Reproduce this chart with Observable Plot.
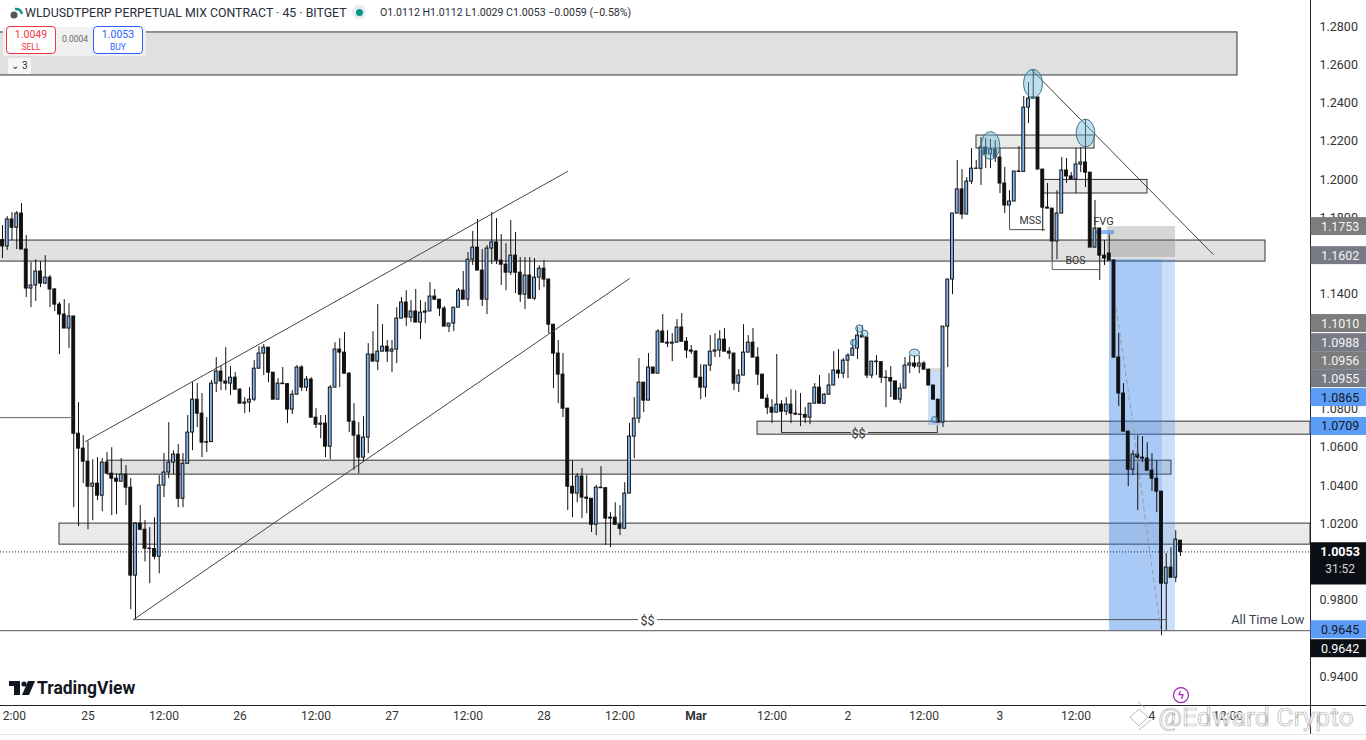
<!DOCTYPE html>
<html><head><meta charset="utf-8">
<script src="https://cdn.jsdelivr.net/npm/d3@7"></script>
<script src="https://cdn.jsdelivr.net/npm/@observablehq/plot@0.6"></script>
<style>
html,body{margin:0;padding:0;background:#fff;overflow:hidden}
#wrap{position:relative;width:1366px;height:740px;font-family:Roboto,sans-serif;color:#131722}
#wrap svg{display:block}
.ov{position:absolute;white-space:nowrap}
.btn{position:absolute;top:26px;height:26px;width:48px;background:#fff;border-radius:4px;text-align:center;line-height:1}
</style></head><body>
<div id="wrap"></div>
<script>
const open=[
1.1683,1.1650,1.1791,1.1748,1.1822,1.1634,1.1430,1.1446,1.1519,1.1456,
1.1487,1.1425,1.1346,1.1294,1.1221,1.1284,1.0671,1.0593,1.0525,1.0394,
1.0410,1.0347,1.0520,1.0462,1.0436,1.0420,1.0457,1.0389,0.9929,1.0201,
1.0169,1.0070,1.0068,1.0028,1.0400,1.0468,1.0520,1.0562,1.0331,1.0514,
1.0677,1.0849,1.0776,1.0624,1.0627,1.0933,1.0996,1.0944,1.0933,1.0964,
1.0901,1.0828,1.0834,1.0849,1.1011,1.1090,1.1121,1.0990,1.0849,1.0933,
1.0930,1.0797,1.0875,1.1017,1.0912,1.0954,1.0755,1.0718,1.0724,1.0603,
1.0912,1.1111,1.1095,1.0985,1.0734,1.0661,1.0546,1.0651,1.1085,1.1048,
1.1100,1.1126,1.1100,1.1111,1.1273,1.1357,1.1278,1.1310,1.1252,1.1304,
1.1310,1.1388,1.1372,1.1325,1.1231,1.1247,1.1330,1.1419,1.1372,1.1581,
1.1644,1.1524,1.1372,1.1639,1.1671,1.1576,1.1555,1.1513,1.1602,1.1513,
1.1398,1.1498,1.1377,1.1487,1.1534,1.1477,1.1241,1.1090,1.0980,1.0802,
1.0394,1.0358,1.0447,1.0337,1.0331,1.0195,1.0389,1.0386,1.0227,1.0232,
1.0195,1.0174,1.0358,1.0656,1.0750,1.0938,1.0844,1.1017,1.0985,1.1205,
1.1147,1.1142,1.1147,1.1226,1.1152,1.1106,1.1100,1.0964,1.0912,1.1027,
1.1100,1.1106,1.1163,1.1100,1.1090,1.0933,1.0975,1.1095,1.1147,1.1069,
1.0980,1.0854,1.0807,1.0781,1.0823,1.0786,1.0823,1.0776,1.0771,1.0769,
1.0755,1.0828,1.0912,1.0828,1.0875,1.0923,1.1001,1.0985,1.1053,1.1079,
1.1116,1.1184,1.1174,1.0975,1.1048,1.1045,1.0964,1.0962,1.0944,1.0849,
1.0907,1.1027,1.1038,1.1022,1.1038,1.1006,1.0923,1.0849,1.0729,1.1231,
1.1477,1.1822,1.1948,1.1817,1.1989,1.2057,1.2056,1.2167,1.2131,1.2157,
1.2115,1.1979,1.1864,1.1885,1.2042,1.2040,1.2376,1.2423,1.2429,1.2052,
1.1853,1.1848,1.1676,1.1822,1.2047,1.2016,1.2000,1.2078,1.2089,1.2036,
1.1644,1.1744,1.1602,1.1613,1.1576,1.1069,1.0881,1.0682,1.0483,1.0562,
1.0546,1.0541,1.0478,1.0436,1.0368,0.9887,0.9971,0.9918,1.0112];
const close=[
1.1650,1.1791,1.1748,1.1822,1.1634,1.1430,1.1446,1.1519,1.1456,1.1487,
1.1425,1.1346,1.1294,1.1221,1.1284,1.0671,1.0593,1.0525,1.0394,1.0410,
1.0347,1.0520,1.0462,1.0436,1.0420,1.0457,1.0389,0.9929,1.0201,1.0169,
1.0070,1.0068,1.0028,1.0400,1.0468,1.0520,1.0562,1.0331,1.0514,1.0677,
1.0849,1.0776,1.0624,1.0627,1.0933,1.0996,1.0944,1.0933,1.0964,1.0901,
1.0828,1.0834,1.0849,1.1011,1.1090,1.1121,1.0990,1.0849,1.0933,1.0930,
1.0797,1.0875,1.1017,1.0912,1.0954,1.0755,1.0718,1.0724,1.0603,1.0912,
1.1111,1.1095,1.0985,1.0734,1.0661,1.0546,1.0651,1.1085,1.1048,1.1100,
1.1126,1.1100,1.1111,1.1273,1.1357,1.1278,1.1310,1.1252,1.1304,1.1310,
1.1388,1.1372,1.1325,1.1231,1.1247,1.1330,1.1419,1.1372,1.1581,1.1644,
1.1524,1.1372,1.1639,1.1671,1.1576,1.1555,1.1513,1.1602,1.1513,1.1398,
1.1498,1.1377,1.1487,1.1534,1.1477,1.1241,1.1090,1.0980,1.0802,1.0394,
1.0358,1.0447,1.0337,1.0331,1.0195,1.0389,1.0386,1.0227,1.0232,1.0195,
1.0174,1.0358,1.0656,1.0750,1.0938,1.0844,1.1017,1.0985,1.1205,1.1147,
1.1142,1.1147,1.1226,1.1152,1.1106,1.1100,1.0964,1.0912,1.1027,1.1100,
1.1106,1.1163,1.1100,1.1090,1.0933,1.0975,1.1095,1.1147,1.1069,1.0980,
1.0854,1.0807,1.0781,1.0823,1.0786,1.0823,1.0776,1.0771,1.0769,1.0755,
1.0828,1.0912,1.0828,1.0875,1.0923,1.1001,1.0985,1.1053,1.1079,1.1116,
1.1184,1.1174,1.0975,1.1048,1.1045,1.0964,1.0962,1.0944,1.0849,1.0907,
1.1027,1.1038,1.1022,1.1038,1.1006,1.0923,1.0849,1.0729,1.1231,1.1477,
1.1822,1.1948,1.1817,1.1989,1.2057,1.2056,1.2167,1.2131,1.2157,1.2115,
1.1979,1.1864,1.1885,1.2042,1.2040,1.2376,1.2423,1.2429,1.2052,1.1853,
1.1848,1.1676,1.1822,1.2047,1.2016,1.2000,1.2078,1.2089,1.2036,1.1644,
1.1744,1.1602,1.1587,1.1576,1.1069,1.0881,1.0682,1.0483,1.0562,1.0546,
1.0541,1.0478,1.0436,1.0368,0.9887,0.9971,0.9918,1.0117,1.0053];
const high=[
1.1759,1.1806,1.1827,1.1833,1.1874,1.1707,1.1566,1.1581,1.1571,1.1602,
1.1498,1.1430,1.1357,1.1372,1.1351,1.1284,1.0834,1.0661,1.0630,1.0535,
1.0546,1.0541,1.0572,1.0598,1.0462,1.0541,1.0504,1.0436,1.0206,1.0295,
1.0216,1.0180,1.0232,1.0452,1.0567,1.0729,1.0582,1.0614,1.0567,1.0766,
1.0938,1.0933,1.0881,1.0755,1.0949,1.1069,1.1027,1.1121,1.1022,1.0990,
1.0907,1.0860,1.0912,1.1053,1.1126,1.1137,1.1121,1.0990,1.0959,1.1017,
1.0933,1.0896,1.1027,1.1027,1.0970,1.0964,1.0802,1.0766,1.0766,1.0923,
1.1147,1.1168,1.1200,1.0990,1.0828,1.0729,1.0760,1.1142,1.1205,1.1346,
1.1241,1.1158,1.1158,1.1330,1.1383,1.1419,1.1367,1.1425,1.1367,1.1357,
1.1461,1.1425,1.1372,1.1336,1.1247,1.1330,1.1430,1.1519,1.1618,1.1728,
1.1791,1.1634,1.1655,1.1827,1.1796,1.1712,1.1665,1.1785,1.1723,1.1592,
1.1592,1.1592,1.1587,1.1550,1.1576,1.1477,1.1241,1.1158,1.1090,1.0802,
1.0530,1.0462,1.0488,1.0452,1.0331,1.0400,1.0499,1.0389,1.0258,1.0310,
1.0295,1.0415,1.0724,1.0860,1.1064,1.0938,1.1090,1.1017,1.1215,1.1294,
1.1210,1.1194,1.1268,1.1299,1.1174,1.1132,1.1106,1.1032,1.1027,1.1184,
1.1194,1.1210,1.1221,1.1121,1.1090,1.1006,1.1241,1.1184,1.1221,1.1121,
1.0980,1.0875,1.0849,1.1085,1.0844,1.0860,1.0901,1.0896,1.0881,1.0807,
1.0828,1.0933,1.0975,1.0881,1.0985,1.1100,1.1111,1.1064,1.1090,1.1163,
1.1226,1.1236,1.1174,1.1048,1.1079,1.1048,1.1001,1.1022,1.0944,1.0933,
1.1069,1.1079,1.1079,1.1079,1.1048,1.1006,1.0923,1.0849,1.1231,1.1477,
1.1822,1.2099,1.2052,1.2010,1.2162,1.2099,1.2219,1.2214,1.2209,1.2204,
1.2162,1.2063,1.1942,1.2042,1.2172,1.2434,1.2507,1.2570,1.2429,1.2052,
1.1979,1.1848,1.1942,1.2115,1.2110,1.2036,1.2162,1.2167,1.2314,1.2036,
1.1890,1.1744,1.1681,1.1712,1.1581,1.1194,1.0933,1.0682,1.0582,1.0661,
1.0656,1.0624,1.0567,1.0530,1.0368,1.0044,1.0075,1.0164,1.0112];
const low=[
1.1587,1.1629,1.1681,1.1634,1.1634,1.1383,1.1330,1.1362,1.1435,1.1451,
1.1330,1.1310,1.1085,1.1221,1.1116,1.0284,1.0185,1.0410,1.0169,1.0216,
1.0321,1.0263,1.0462,1.0243,1.0248,1.0420,1.0295,0.9751,0.9699,1.0164,
1.0001,0.9887,1.0012,0.9939,1.0337,1.0436,1.0457,1.0284,1.0284,1.0514,
1.0582,1.0703,1.0546,1.0572,1.0627,1.0886,1.0896,1.0896,1.0870,1.0901,
1.0828,1.0776,1.0781,1.0839,1.1011,1.0975,1.0938,1.0849,1.0849,1.0928,
1.0724,1.0771,1.0875,1.0891,1.0891,1.0755,1.0698,1.0645,1.0546,1.0535,
1.0912,1.0912,1.0985,1.0677,1.0478,1.0462,1.0520,1.0567,1.1048,1.1001,
1.1100,1.1043,1.0990,1.1038,1.1273,1.1231,1.1252,1.1252,1.1163,1.1247,
1.1310,1.1367,1.1284,1.1231,1.1200,1.1205,1.1330,1.1372,1.1336,1.1550,
1.1524,1.1336,1.1294,1.1555,1.1555,1.1446,1.1419,1.1498,1.1404,1.1357,
1.1320,1.1377,1.1367,1.1419,1.1435,1.1194,1.0907,1.0828,1.0755,1.0269,
1.0232,1.0310,1.0227,1.0253,1.0154,1.0138,1.0384,1.0086,1.0075,1.0195,
1.0138,1.0174,1.0358,1.0541,1.0724,1.0781,1.0844,1.0985,1.0985,1.1147,
1.1121,1.1048,1.1147,1.1152,1.1064,1.1085,1.0964,1.0849,1.0860,1.0996,
1.1069,1.1069,1.1100,1.1059,1.0896,1.0886,1.0975,1.1095,1.1069,1.0923,
1.0854,1.0771,1.0724,1.0781,1.0677,1.0766,1.0724,1.0766,1.0708,1.0724,
1.0718,1.0828,1.0828,1.0823,1.0875,1.0923,1.0959,1.0959,1.0959,1.1079,
1.1059,1.1174,1.0959,1.0959,1.0975,1.0933,1.0807,1.0860,1.0849,1.0828,
1.0907,1.0985,1.1011,1.0985,1.1006,1.0923,1.0849,1.0729,1.0703,1.1017,
1.1398,1.1822,1.1791,1.1817,1.1974,1.2056,1.1969,1.2057,1.2057,1.2089,
1.1927,1.1822,1.1744,1.1885,1.2040,1.2047,1.2293,1.2423,1.2052,1.1728,
1.1848,1.1576,1.1581,1.1822,1.1979,1.2000,1.1927,1.2036,1.1958,1.1644,
1.1644,1.1472,1.1550,1.1576,1.1069,1.0813,1.0682,1.0394,1.0452,1.0269,
1.0520,1.0478,1.0368,1.0258,0.9615,0.9641,0.9918,0.9892,1.0029];

const yTicks=[1.28,1.26,1.24,1.22,1.20,1.18,1.14,1.08,1.06,1.04,1.02,0.98,0.94];
const xTickAt=[2.5,18,34,50,66,82,98,114,130,146,162,178,194,210,226,242,258];
const xTickText=["2:00","25","12:00","26","12:00","27","12:00","28","12:00","Mar","12:00","2","12:00","3","12:00","4","12:00"];

// [from bar, to bar, upper price, lower price, fill]
const zones=[
 [-1,260,1.2769,1.2544,"#e0e0e0"],
 [-1,265.9,1.1681,1.1571,"#e1e1e1"],
 [158.95,275.37,1.0734,1.0666,"#e3e4e3"],
 [22.1,246.1,1.0530,1.0457,"#dfe0df"],
 [12,275.37,1.0201,1.0091,"#e9ebea"],
 [205.05,229.9,1.2230,1.2162,"#e9ebe9"],
 [219.2,241.05,1.1998,1.1927,"#eaebea"]];
const shades=[
 [233.05,244.2,1.1581,0.9641,"rgba(41,121,235,.40)"],
 [244.2,246.95,1.1581,0.9641,"rgba(41,121,235,.24)"],
 [232.6,246.95,1.1754,1.1592,"rgba(120,120,120,.30)"],
 [194.95,197.7,1.1011,1.0990,"rgba(120,120,120,.30)"],
 [194.95,197.7,1.0990,1.0713,"rgba(41,121,235,.24)"],
 [186.95,188.4,1.0949,1.0860,"rgba(41,121,235,.24)"]];
const solidLines=[
 {c:"#444",a:[[17.47,1.0630],[118.95,1.2042]]},
 {c:"#444",a:[[27.58,0.9699],[132,1.1482]]},
 {c:"#555",a:[[27.58,0.9699],[133.7,0.9699]]},
 {c:"#555",a:[[137.9,0.9699],[245.05,0.9699]]},
 {c:"#555",a:[[-1,0.9641],[275.37,0.9641]]},
 {c:"#666",a:[[-1,1.0755],[14.7,1.0755]]},
 {c:"#333",a:[[164,1.0677],[178.5,1.0677]]},
 {c:"#333",a:[[182.3,1.0677],[196.8,1.0677],[196.8,1.0713]]},
 {c:"#555",a:[[212,1.1864],[212,1.1738],[219.4,1.1738]]},
 {c:"#666",a:[[221,1.1670],[221,1.1529],[231,1.1529],[231,1.1550]]},
 {c:"#444",a:[[216.8,1.2570],[254.9,1.1608]]}];
const arrowPath=[[234.5,1.1325],[238.1,1.0703],[239.6,1.0410],[241.3,1.0096],[243.8,0.9657]];
const tallMarks=[[216.95,1.2502,9.4],[228,1.2243,9.2],[208,1.2178,9.2]];
const wideMarks=[[192,1.1095,3.5]];
const roundMarks=[[180.4,1.1221,3.7],[181.5,1.1194,3.4],[179.2,1.1147,3.2],[196.2,1.0745,3]];
const notes=[
 ["MSS",216.4,1.1785,10.5],["BOS",225.9,1.1576,10.5],["FVG",231.8,1.1780,11],["$$",135.8,0.9693,12.5],["$$",180.2,1.0671,12.5]];
// text, display level, fill, text colour
const tags=[
 ["1.1753",1.1754,"#7d7d7d","#f4f4f4"],["1.1602",1.1602,"#787b86","#f4f4f4"],
 ["1.1010",1.1247,"#7d7d7d","#f4f4f4"],["1.0988",1.1147,"#787b86","#f4f4f4"],
 ["1.0956",1.1053,"#7d7d7d","#f4f4f4"],["1.0955",1.0959,"#787b86","#f4f4f4"],
 ["1.0865",1.0860,"#5b9cf6","#131722"],["1.0709",1.0709,"#5b9cf6","#131722"],
 ["0.9645",0.9646,"#5b9cf6","#131722"],["0.9642",0.9547,"#0c0e15","#ffffff"]];

const candles=close.map((c,i)=>({i,o:open[i],h:high[i],l:low[i],c}));
const up=candles.filter(d=>d.c>d.o), dn=candles.filter(d=>d.c<=d.o);
const lineRows=solidLines.flatMap((s,k)=>s.a.map(([i,p])=>({k,i,p,c:s.c})));
const ellipse=(ax,ay)=>({draw(ctx,size){
  const r=Math.sqrt(size/Math.PI),rx=r*ax,ry=r*ay,K=0.5523;
  ctx.moveTo(rx,0);
  ctx.bezierCurveTo(rx,K*ry,K*rx,ry,0,ry);
  ctx.bezierCurveTo(-K*rx,ry,-rx,K*ry,-rx,0);
  ctx.bezierCurveTo(-rx,-K*ry,-K*rx,-ry,0,-ry);
  ctx.bezierCurveTo(K*rx,-ry,rx,-K*ry,rx,0);
  ctx.closePath();
}});
const rectMark=(rows,opt={})=>Plot.rect(rows,{x1:d=>d[0],x2:d=>d[1],y1:d=>d[3],y2:d=>d[2],fill:d=>d[4],...opt});
const tagH=0.0047, tagL=275.37, tagR=288;
const fontTV="Roboto,sans-serif";

const chart=Plot.plot({
  width:1366,height:740,
  marginLeft:0,marginRight:56,marginTop:0,marginBottom:35,
  style:{background:"#fff",fontFamily:fontTV,overflow:"hidden"},
  x:{domain:[-0.421,275.37],range:[0,1310],axis:null},
  y:{domain:[0.9250,1.2936],range:[705,0],axis:null},
  r:{type:"identity"},
  marks:[
    rectMark(zones,{stroke:"#333",strokeWidth:1}),
    rectMark(shades),
    Plot.rect([[230.3,234.1,1.1733,1.1712]],{x1:d=>d[0],x2:d=>d[1],y1:d=>d[3],y2:d=>d[2],fill:"#2d7ff0",fillOpacity:.55}),
    Plot.ruleX(candles,{x:"i",y1:"l",y2:"h",stroke:"#111",strokeWidth:1}),
    Plot.rect(dn,{x1:d=>d.i-.3,x2:d=>d.i+.3,y1:"o",y2:"c",fill:"#111",stroke:"#111",strokeWidth:1}),
    Plot.rect(up,{x1:d=>d.i-.3,x2:d=>d.i+.3,y1:"o",y2:"c",fill:"#84b6f0",stroke:"#111",strokeWidth:1}),
    Plot.line(lineRows,{x:"i",y:"p",z:"k",stroke:"c",strokeWidth:1}),
    Plot.line(arrowPath,{x:d=>d[0],y:d=>d[1],stroke:"#9a9a9a",strokeWidth:1,strokeDasharray:"4 4"}),
    Plot.ruleY([1.0053],{stroke:"#222",strokeWidth:1,strokeDasharray:"1 2"}),
    Plot.dot(tallMarks,{x:d=>d[0],y:d=>d[1],r:d=>d[2],symbol:ellipse(1,1.5),fill:"#6fb7dc",fillOpacity:.45,stroke:"#3d6f88",strokeWidth:1}),
    Plot.dot(wideMarks,{x:d=>d[0],y:d=>d[1],r:d=>d[2],symbol:ellipse(1.45,1),fill:"#6fb7dc",fillOpacity:.45,stroke:"#3d6f88",strokeWidth:1}),
    Plot.dot(roundMarks,{x:d=>d[0],y:d=>d[1],r:d=>d[2],fill:"#6fb7dc",fillOpacity:.45,stroke:"#3d6f88",strokeWidth:1}),
    Plot.text(notes,{x:d=>d[1],y:d=>d[2],text:d=>d[0],fontSize:d=>d[3],fill:"#333"}),
    Plot.text(["All Time Low"],{x:274.1,y:0.9699,textAnchor:"end",fontSize:12.8,fill:"#3c4250"}),
    // axes frame
    Plot.axisY({anchor:"right",ticks:yTicks,tickFormat:d=>d.toFixed(4),tickSize:0,tickPadding:9,fontSize:12.5,color:"#333",label:null}),
    Plot.axisX({anchor:"bottom",ticks:xTickAt,tickFormat:d=>xTickText[xTickAt.indexOf(d)],tickSize:0,tickPadding:6,fontSize:12,color:"#333",label:null}),
    Plot.ruleX([275.37],{y1:0.9250-0.015,y2:1.2936,stroke:"#222",strokeWidth:1,clip:false}),
    // price tags
    Plot.rect(tags,{x1:tagL+.12,x2:tagR,y1:d=>d[1]-tagH,y2:d=>d[1]+tagH,fill:d=>d[2]}),
    Plot.text(tags,{x:281.6,y:d=>d[1],text:d=>d[0],fill:d=>d[3],fontSize:12.5}),
    Plot.rect([1.0053],{x1:tagL+.12,x2:tagR,y1:0.9880,y2:1.0101,fill:"#0c0e15"}),
    Plot.text(["1.0053"],{x:281.6,y:1.0053,fill:"#fff",fontSize:12.5,fontWeight:"bold"}),
    Plot.text(["31:52"],{x:281.6,y:0.9965,fill:"#d6d6d6",fontSize:12}),
    // bottom furniture
    Plot.dot([[248.1,0.9304]],{x:d=>d[0],y:d=>d[1],r:7.5,fill:"#fff",stroke:"#9c27b0",strokeWidth:1.2}),
    Plot.text(["ϟ"],{x:248.1,y:0.9304,fontSize:11,fontWeight:"bold",fill:"#9c27b0"})
  ]
});
const wrap=document.getElementById("wrap");
wrap.appendChild(chart);
const sel=d3.select(chart);
sel.selectAll("text").filter(function(){return this.textContent==="Mar"}).attr("font-weight",700);
sel.append("line").attr("x1",0).attr("x2",1366).attr("y1",705.5).attr("y2",705.5).attr("stroke","#222");
sel.append("line").attr("x1",0).attr("x2",1366).attr("y1",734.5).attr("y2",734.5).attr("stroke","#e4e4e4");
sel.append("path").attr("d","M1130 717l9-8 9 8-9 9zM1138 702l7 6M1139 730l12-10").attr("fill","#fff").attr("fill-opacity",.8).attr("stroke","#bbb").attr("stroke-width",1);
sel.append("text").attr("x",1256).attr("y",726).attr("text-anchor","middle")
  .attr("font-size",26.5).attr("fill","#fff").attr("fill-opacity",.85).attr("stroke","#b5b5b5").attr("stroke-width",.7)
  .attr("font-family",fontTV).text("@Edward Crypto");

const html=`
<div class="ov" style="left:25px;top:5px;font-size:12.35px;line-height:16px;color:#2a2e39">WLDUSDTPERP PERPETUAL MIX CONTRACT · 45 · BITGET</div>
<div class="ov" style="left:9px;top:6px;width:12px;height:12px"><svg width="14" height="14"><circle cx="5" cy="9" r="3.5" fill="#555"/><path d="M6 3a6 6 0 0 1 7 5" fill="none" stroke="#16928c" stroke-width="2.5"/></svg></div>
<div class="ov" style="left:352px;top:5px;width:14px;height:14px;border-radius:50%;background:#e3eef0"><div style="margin:3.5px;width:7px;height:7px;border-radius:50%;background:#0c9488"></div></div>
<div class="ov" style="left:380px;top:6px;font-size:10.6px;color:#2a2e39">O1.0112 H1.0112 L1.0029 C1.0053 −0.0059 (−0.58%)</div>
<div class="ov" style="left:3px;top:27px;width:143px;height:29px;background:#f0f0f0"></div>
<div class="btn" style="left:6px;border:1px solid #f23645;color:#f23645"><div style="font-size:10.5px;margin-top:3px">1.0049</div><div style="font-size:8.5px;margin-top:2px">SELL</div></div>
<div class="ov" style="left:62px;top:34px;font-size:8.5px;color:#666">0.0004</div>
<div class="btn" style="left:93px;border:1px solid #2962ff;color:#2962ff"><div style="font-size:10.5px;margin-top:3px">1.0053</div><div style="font-size:8.5px;margin-top:2px">BUY</div></div>
<div class="ov" style="left:8px;top:58px;width:23px;height:16px;background:#f6f6f6;border-radius:2px;font-size:10px;line-height:16px;text-align:center;color:#333">⌄ 3</div>
<div class="ov" style="left:9px;top:681px"><svg width="26" height="14"><path d="M0 0h11v14H5V5H0z" fill="#131722"/><circle cx="15" cy="3" r="2.6" fill="#131722"/><path d="M19 0h7l-6 14h-7z" fill="#131722"/></svg></div>
<div class="ov" style="left:37px;top:678px;font-size:17.5px;font-weight:700;color:#131722">TradingView</div>`;
wrap.insertAdjacentHTML("beforeend",html);
</script>
</body></html>
